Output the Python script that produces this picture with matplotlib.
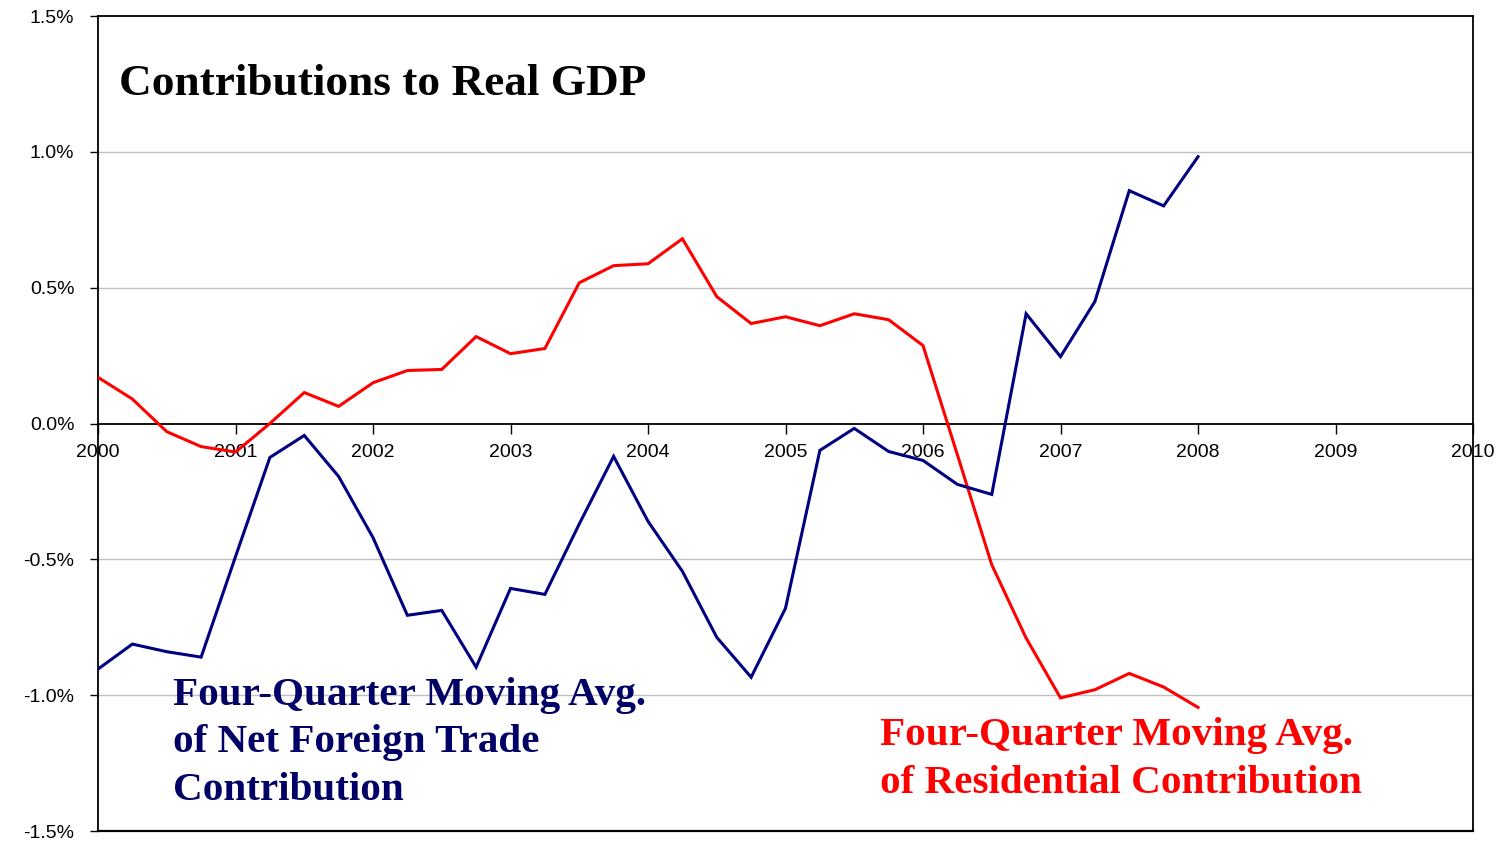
import numpy as np
import matplotlib
matplotlib.use("Agg")
import matplotlib.pyplot as plt
from matplotlib.ticker import FuncFormatter

# quarterly positions, 2000Q1 .. 2008Q1
quarters = np.arange(2000, 2008.001, 0.25)

# four-quarter moving avg of residential contribution (%)
residential = [0.17, 0.09, -0.03, -0.085, -0.105, 0.0, 0.114, 0.063, 0.15, 0.195,
               0.199, 0.32, 0.257, 0.276, 0.518, 0.581, 0.588, 0.68, 0.467, 0.368,
               0.393, 0.36, 0.404, 0.382, 0.287, -0.115, -0.52, -0.79, -1.01, -0.98,
               -0.92, -0.97, -1.045]

# four-quarter moving avg of net foreign trade contribution (%)
net_trade = [-0.904, -0.812, -0.84, -0.86, -0.49, -0.125, -0.044, -0.195, -0.42, -0.706,
             -0.688, -0.897, -0.607, -0.629, -0.37, -0.121, -0.36, -0.544, -0.787, -0.934,
             -0.68, -0.099, -0.018, -0.103, -0.136, -0.224, -0.261, 0.404, 0.246, 0.449,
             0.857, 0.801, 0.982]

years = list(range(2000, 2011))
yticks = [-1.5, -1.0, -0.5, 0.0, 0.5, 1.0, 1.5]

fig = plt.figure(figsize=(15.03, 8.43), dpi=100)
ax = fig.add_axes([98 / 1503, 1 - 831 / 843, (1473 - 98) / 1503, (831 - 16) / 843])

ax.set_xlim(2000, 2010)
ax.set_ylim(-1.5, 1.5)

# gridlines
for g in [-1.0, -0.5, 0.5, 1.0]:
    ax.axhline(g, color='#c0c0c0', lw=1, zorder=0)

ax.plot(quarters, residential, color='#ff0000', lw=2.2, solid_joinstyle='miter', zorder=3)
ax.plot(quarters, net_trade, color='#000080', lw=2.2, solid_joinstyle='miter', zorder=3)

# x axis runs along zero, box closed at the bottom
for s in ['left', 'right', 'top', 'bottom']:
    ax.spines[s].set_linewidth(1.3)
    ax.spines[s].set_color('black')
ax.spines['bottom'].set_position(('data', 0))
ax.plot([0, 1], [0, 0], transform=ax.transAxes, color='black', lw=1.6, clip_on=False, zorder=5)

ax.set_xticks(years)
ax.set_xticklabels([str(y) for y in years], fontsize=14, fontfamily='Liberation Sans')
ax.tick_params(axis='x', direction='out', length=7, width=1, pad=8)

ax.set_yticks(yticks)
ax.yaxis.set_major_formatter(FuncFormatter(lambda v, p: '{:.1f}%'.format(v)))
ax.tick_params(axis='y', direction='out', length=6, width=1, pad=11, labelsize=14)
for lab in ax.get_yticklabels():
    lab.set_fontfamily('Liberation Sans')

ax.text(119 / 1503, 1 - 95 / 843, 'Contributions to Real GDP', transform=fig.transFigure,
        fontsize=32.6, fontweight='bold', fontfamily='Liberation Serif', color='black',
        va='baseline', ha='left')

# multi-line text: baseline of the last line
ax.text(173 / 1503, 1 - 800 / 843,
        'Four-Quarter Moving Avg.\nof Net Foreign Trade\nContribution',
        transform=fig.transFigure, fontsize=29.6, fontweight='bold',
        fontfamily='Liberation Serif', color='#000066', va='baseline', ha='left',
        linespacing=1.38)

ax.text(880 / 1503, 1 - 793 / 843,
        'Four-Quarter Moving Avg.\nof Residential Contribution',
        transform=fig.transFigure, fontsize=29.6, fontweight='bold',
        fontfamily='Liberation Serif', color='#ff0000', va='baseline', ha='left',
        linespacing=1.38)

fig.savefig('out.png', dpi=100)
